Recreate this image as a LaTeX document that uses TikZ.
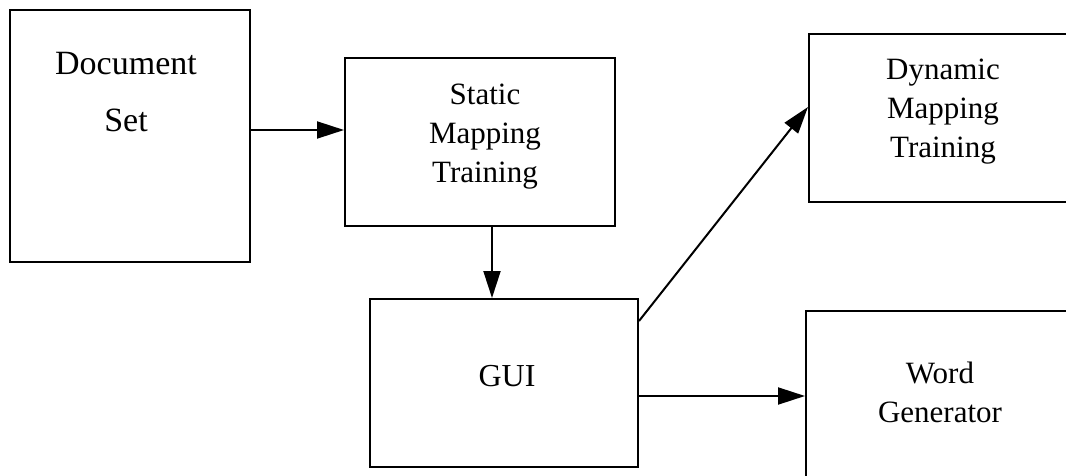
\documentclass[tikz,border=0pt]{standalone}
\usepackage{fontspec}
\setmainfont{Liberation Serif}
\usetikzlibrary{arrows.meta}

\tikzset{
  block/.style={draw, line width=2pt, rectangle, inner sep=0pt},
  label text/.style={align=center, inner sep=0pt, font=\fontsize{31}{39}\selectfont},
  flow/.style={line width=2pt, -{Triangle[length=27pt, width=17pt]}},
}

\begin{document}
\begin{tikzpicture}[x=1pt, y=-1pt]
  \useasboundingbox (0,0) rectangle (1066,476);
  \clip (0,0) rectangle (1066,476);

  % boxes
  \node[block, minimum width=240pt, minimum height=252pt] (doc)    at (130,136)   {};
  \node[block, minimum width=270pt, minimum height=168pt] (static) at (480,142)   {};
  \node[block, minimum width=266pt, minimum height=168pt] (dyn)    at (942,118)   {};
  \node[block, minimum width=268pt, minimum height=168pt] (gui)    at (504,383)   {};
  \node[block, minimum width=269pt, minimum height=189pt] (word)   at (940.5,405.5) {};

  % labels
  \node[label text, font=\fontsize{34}{57}\selectfont] (docT) at (126,92) {Document\\Set};
  \node[label text] (staticT) at (485,137) {Static\\Mapping\\Training};
  \node[label text] (dynT)    at (943,112) {Dynamic\\Mapping\\Training};
  \node[label text, font=\fontsize{32}{39}\selectfont] (guiT) at (507,376) {GUI};
  \node[label text] (wordT)   at (940,392) {Word\\Generator};

  % connectors
  \draw[flow] ([yshift=6pt]doc.east) -- ([yshift=6pt]doc.east -| static.west);
  \draw[flow] ([xshift=12pt]static.south) -- ([xshift=12pt]static.south |- gui.north);
  \draw[flow] ([yshift=-23pt]gui.north east) -- ([yshift=-74pt]dyn.north west);
  \draw[flow] ([yshift=-13pt]gui.east) -- ([yshift=-13pt]gui.east -| word.west);
\end{tikzpicture}
\end{document}
